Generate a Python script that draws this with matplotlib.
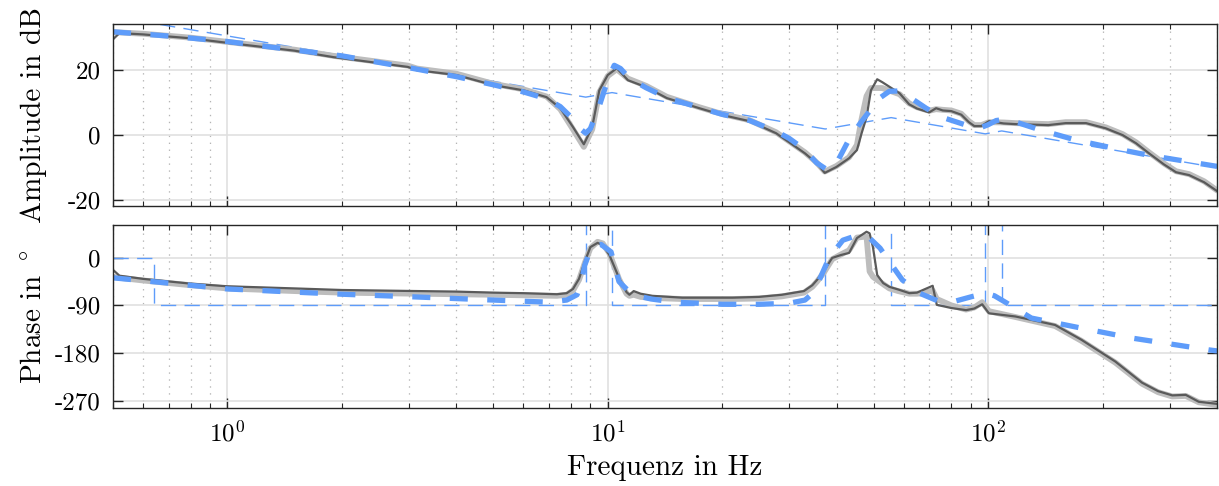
import numpy as np
import matplotlib
matplotlib.use("Agg")
import matplotlib.pyplot as plt
from matplotlib.ticker import LogLocator, NullFormatter

# ---- data ----
# measured amplitude, dark line
f_amp = [0.5, 0.52, 0.6, 0.8, 1.0, 1.5, 1.9, 2.98, 3.15, 4.0, 5.0, 6.0, 6.9, 7.5, 8.1,
         8.65, 9.1, 9.5, 10.0, 10.56, 11.3, 12.6, 14.3, 17.4, 20.0, 23.6, 27.7, 30.0,
         33.0, 35.4, 37.2, 39.9, 43.1, 45.2, 46.5, 47.9, 49.2, 51.1, 52.7, 58.5, 62.0,
         65.0, 70.0, 73.0, 76.0, 80.0, 85.0, 89.0, 92.0, 96.0, 100.5, 110.0, 118.0,
         144.0, 160.0, 181.0, 204.0, 226.0, 245.0, 265.0, 290.0, 312.0, 338.0, 370.0, 400.0]
amp_dark = [29.5, 31.4, 31.0, 29.8, 28.4, 26.0, 24.0, 21.0, 20.0, 18.5, 15.4, 13.8, 11.7, 8.3, 2.5,
            -2.8, 2.5, 13.8, 18.5, 20.6, 16.9, 14.8, 11.4, 8.3, 6.2, 4.3, 0.6, -2.2,
            -5.6, -8.6, -11.6, -9.8, -7.1, -4.6, 0.6, 5.5, 13.8, 17.2, 16.3, 12.9, 9.5,
            8.2, 7.0, 8.3, 7.6, 7.4, 6.3, 4.0, 2.8, 2.8, 4.3, 3.6, 3.4,
            3.1, 3.7, 3.7, 2.1, 0.0, -2.5, -5.6, -9.0, -11.4, -12.3, -14.5, -17.2]
amp_light = [31.7, 31.6, 31.2, 30.0, 28.7, 26.3, 24.4, 21.4, 20.5, 18.9, 15.8, 14.1, 11.9, 8.0, 1.8,
             -3.6, 1.8, 13.2, 18.2, 20.3, 17.4, 15.2, 11.8, 8.6, 6.5, 4.6, 0.9, -1.9,
             -5.3, -8.4, -11.2, -9.5, -6.8, -3.0, 5.0, 12.0, 14.5, 14.5, 14.5, 12.6, 9.8,
             8.6, 7.5, 8.0, 7.8, 7.6, 6.6, 4.3, 3.1, 3.1, 4.0, 3.9, 3.7,
             3.4, 4.0, 4.0, 2.4, 0.3, -2.2, -5.3, -8.7, -11.1, -12.0, -14.2, -17.0]

# model amplitude, thick blue dashed
f_amp_fit = [0.5, 0.7, 1.0, 1.5, 2.0, 3.15, 4.0, 5.0, 6.0, 6.9, 7.5, 8.1, 8.5, 8.75, 9.0,
             9.5, 10.0, 10.4, 10.8, 11.4, 12.6, 14.3, 17.4, 20.0, 23.6, 27.7, 30.0, 33.0,
             35.4, 37.9, 40.0, 43.0, 46.0, 49.0, 52.0, 55.0, 58.5, 62.0, 68.7, 75.7, 87.5,
             95.0, 100.0, 105.0, 111.0, 120.0, 138.0, 170.0, 226.0, 265.0, 372.0, 400.0]
amp_fit = [31.8, 30.5, 28.8, 26.2, 24.4, 20.3, 18.0, 15.5, 13.3, 11.2, 8.8, 5.0, 1.8, 0.6, 2.0,
           9.0, 17.0, 21.5, 20.5, 17.5, 14.6, 11.5, 8.5, 6.4, 4.5, 1.2, -1.0, -4.5,
           -8.5, -10.8, -8.5, -1.5, 3.5, 7.7, 11.5, 13.5, 13.6, 11.8, 8.3, 5.5, 3.1,
           2.2, 3.2, 4.5, 4.9, 3.8, 1.5, -1.5, -4.6, -6.2, -9.0, -9.6]

# asymptotes, thin blue dashed
f_asym_amp = [0.5, 0.64, 8.75, 10.26, 37.3, 55.6, 98.3, 108.6, 400.0]
amp_asym = [34.4, 34.4, 11.7, 13.1, 1.9, 5.4, 0.4, 1.3, -10.0]

# measured phase
f_ph = [0.5, 0.52, 0.6, 0.8, 1.0, 1.5, 2.0, 3.15, 4.0, 5.0, 6.0, 7.35, 7.8, 8.1, 8.4,
        8.7, 9.0, 9.4, 9.7, 10.1, 10.7, 11.2, 11.4, 11.7, 12.2, 13.1, 15.7, 21.3, 25.0,
        28.7, 32.8, 34.5, 35.5, 37.0, 38.9, 41.0, 43.1, 45.2, 47.9, 48.8, 49.8, 51.1,
        53.0, 55.0, 58.0, 62.1, 65.0, 67.4, 71.5, 73.3, 80.0, 87.5, 92.0, 96.5, 100.5,
        118.0, 150.0, 176.0, 216.0, 254.0, 280.0, 305.0, 331.0, 358.0, 400.0]
ph_dark = [-23, -34, -40, -49, -54, -58, -61, -63, -64, -66, -67, -69, -67, -59, -40,
           -7.5, 20, 28, 24, 5, -38, -65, -70, -63, -68, -72, -75.5, -75.5, -74,
           -70, -63, -52, -42, -25, -0.5, 5, 9, 37, 49, 46, 20, -32.7,
           -48, -55, -60, -67, -66, -61, -53, -89, -95, -99, -96, -88, -105,
           -111, -127, -155, -196, -236, -252, -260, -259, -272, -276]
ph_light = [-36, -38, -43, -52, -58, -63, -66, -68, -69, -70, -71, -72, -70, -62, -42,
            -10, 18, 30, 27, 8, -40, -68, -72, -70, -74, -76, -78, -78, -77,
            -73, -66, -55, -45, -28, -3, 6, 14, 38, 40, -26, -36, -42,
            -50, -58, -63, -68, -68, -67, -62, -78, -90, -98, -94, -84, -101,
            -112, -129, -157, -198, -238, -254, -262, -261, -273, -278]

# model phase
f_ph_fit = [0.5, 0.7, 1.0, 1.5, 2.0, 3.0, 5.0, 7.0, 7.8, 8.3, 8.5, 8.7, 9.0, 9.2, 9.6,
            10.2, 10.7, 11.6, 13.0, 15.0, 20.0, 25.0, 30.0, 33.0, 34.6, 36.0, 38.2, 41.5,
            45.0, 48.8, 52.0, 55.0, 59.5, 66.0, 74.0, 82.0, 90.6, 98.6, 104.0, 111.0,
            130.0, 176.0, 240.0, 380.0, 400.0]
ph_fit = [-38, -48, -59, -65, -69, -73.6, -80, -84, -80, -70, -50, -14, 15, 24, 25,
          11, -45, -70, -78, -84, -88, -88, -86, -80, -67, -42, 0, 33,
          41.5, 37, 18, -7.5, -42, -67, -82, -82, -73.5, -67, -72, -84,
          -114, -133, -152, -174, -176]

f_asym_ph = [0.5, 0.64, 0.64, 8.75, 8.75, 10.26, 10.26, 37.3, 37.3, 55.6, 55.6, 98.3, 98.3,
             108.6, 108.6, 400.0]
ph_asym = [0, 0, -90, -90, 90, 90, -90, -90, 90, 90, -90, -90, 90, 90, -90, -90]

blue = "#5e9cfa"
dark = "#5a5a5a"
light = "#bdbdbd"

plt.rcParams["font.family"] = "cmr10"
plt.rcParams["mathtext.fontset"] = "cm"
plt.rcParams["axes.unicode_minus"] = False
plt.rcParams["axes.formatter.use_mathtext"] = True
plt.rcParams["lines.scale_dashes"] = False


def style(ax):
    ax.set_xscale("log")
    ax.set_xlim(0.5, 400)
    ax.xaxis.set_minor_locator(LogLocator(base=10, subs=np.arange(2, 10)))
    ax.xaxis.set_minor_formatter(NullFormatter())
    ax.grid(True, which="major", color="#e0e0e0", lw=1.2)
    ax.grid(True, which="minor", axis="x", color="#b5b5b5", lw=0.9, ls=(0, (1, 4)))
    ax.set_axisbelow(True)
    ax.tick_params(which="both", direction="in", top=True, right=True, labelsize=18,
                   color="#262626")
    ax.tick_params(which="major", length=7.5, width=1, pad=9)
    ax.tick_params(which="minor", length=3.8, width=0.8)
    for s in ax.spines.values():
        s.set_color("#262626")
        s.set_linewidth(1)


fig = plt.figure(figsize=(12.19, 4.86), dpi=100)
ax1 = fig.add_axes([0.0927, 0.5761, 0.9057, 0.3745])
ax2 = fig.add_axes([0.0927, 0.1605, 0.9057, 0.3765], sharex=ax1)

thin = dict(color=blue, lw=1.0, dashes=(11, 6))
thick = dict(color=blue, lw=3.8, dashes=(13, 14), dash_capstyle="butt")

ax1.plot(f_asym_amp, amp_asym, **thin)
ax1.plot(f_amp, amp_light, color=light, lw=4.2, solid_capstyle="round")
ax1.plot(f_amp, amp_dark, color=dark, lw=1.6)
ax1.plot(f_amp_fit, amp_fit, **thick)

ax2.plot(f_asym_ph, ph_asym, **thin)
ax2.plot(f_ph, ph_light, color=light, lw=4.2, solid_capstyle="round")
ax2.plot(f_ph, ph_dark, color=dark, lw=1.6)
ax2.plot(f_ph_fit, ph_fit, **thick)

style(ax1)
style(ax2)

ax1.set_ylim(-21.8, 34.2)
ax1.set_yticks([-20, 0, 20], ["-20", "0", "20"])
ax1.tick_params(labelbottom=False)
ax1.set_ylabel("Amplitude in dB", fontsize=21)
ax1.yaxis.set_label_coords(-0.06, 0.5)

ax2.set_ylim(-283.8, 61.7)
ax2.set_yticks([0, -90, -180, -270], ["0", "-90", "-180", "-270"])
ax2.set_ylabel(r"Phase in $^\circ$", fontsize=21)
ax2.yaxis.set_label_coords(-0.06, 0.5)
ax2.set_xlabel("Frequenz in Hz", fontsize=21, labelpad=6)

fig.savefig("out.png", dpi=100)
